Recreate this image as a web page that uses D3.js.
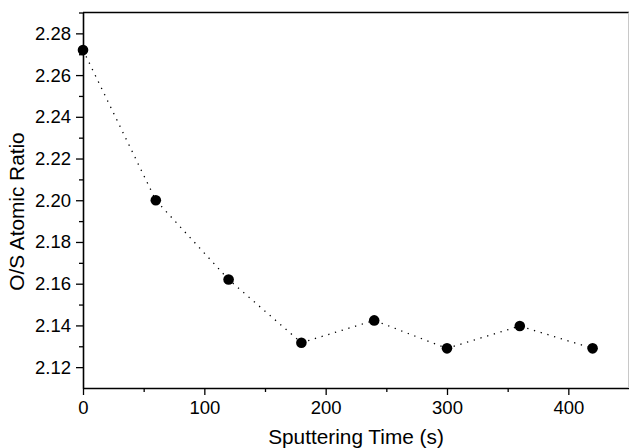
<!DOCTYPE html>
<html>
<head>
<meta charset="utf-8">
<script src="https://cdn.jsdelivr.net/npm/d3@7"></script>
<style>
  body { margin: 0; background: #fff; }
  #chart { width: 629px; height: 448px; }
  text { font-family: "Liberation Sans", Arial, sans-serif; fill: #000; }
</style>
</head>
<body>
<div id="chart"></div>
<script>
// data
const times = [0, 60, 120, 180, 240, 300, 360, 420];
const ratios = [2.272, 2.200, 2.162, 2.1317, 2.1424, 2.129, 2.1397, 2.129];
const xTicks = [0, 100, 200, 300, 400];
const yTicks = [2.12, 2.14, 2.16, 2.18, 2.20, 2.22, 2.24, 2.26, 2.28];

const width = 629;
const height = 448;
const margin = {top: 12.5, left: 83, right: 0, bottom: 60};

const svg = d3.select("#chart")
    .append("svg")
    .attr("width", width)
    .attr("height", height);

const xScale = d3.scaleLinear()
    .domain([0, 450])
    .range([margin.left, width - margin.right]);

const yScale = d3.scaleLinear()
    .domain([2.11, 2.29])
    .range([height - margin.bottom, margin.top]);

// minor ticks
const xMinor = d3.range(50, 450, 100);
const yMinor = d3.range(2.13, 2.29, 0.02).map(function(v) { return +v.toFixed(2); });

svg.append("g")
    .attr("transform", `translate(0,${height - margin.bottom})`)
    .call(d3.axisBottom(xScale).tickValues(xMinor).tickSize(4).tickFormat(""))
    .call(g => g.select(".domain").remove())
    .selectAll("line").attr("stroke-width", 1.3);

svg.append("g")
    .attr("transform", `translate(${margin.left},0)`)
    .call(d3.axisLeft(yScale).tickValues(yMinor).tickSize(4).tickFormat(""))
    .call(g => g.select(".domain").remove())
    .selectAll("line").attr("stroke-width", 1.3);

// major axes
const xAxis = svg.append("g")
    .attr("transform", `translate(0,${height - margin.bottom})`)
    .call(d3.axisBottom(xScale).tickValues(xTicks).tickSize(7).tickSizeOuter(0).tickPadding(6).tickFormat(d3.format("d")));
xAxis.select(".domain").attr("stroke-width", 1.6);
xAxis.selectAll("line").attr("stroke-width", 1.3);
xAxis.selectAll("text").attr("font-size", "18.5px").attr("font-family", "Liberation Sans, Arial, sans-serif");

const yAxis = svg.append("g")
    .attr("transform", `translate(${margin.left},0)`)
    .call(d3.axisLeft(yScale).tickValues(yTicks).tickSize(7).tickSizeOuter(0).tickPadding(5).tickFormat(d3.format(".2f")));
yAxis.select(".domain").attr("stroke-width", 1.6);
yAxis.selectAll("line").attr("stroke-width", 1.3);
yAxis.selectAll("text").attr("font-size", "18.5px").attr("font-family", "Liberation Sans, Arial, sans-serif");

// frame top and right
svg.append("line")
    .attr("x1", margin.left).attr("x2", width)
    .attr("y1", margin.top).attr("y2", margin.top)
    .attr("stroke", "#000").attr("stroke-width", 1.6);
svg.append("line")
    .attr("x1", width - 0.5).attr("x2", width - 0.5)
    .attr("y1", margin.top).attr("y2", height - margin.bottom)
    .attr("stroke", "#c8c8c8").attr("stroke-width", 1);

// dotted line
const points = times.map(function(t, i) { return {t: t, r: ratios[i]}; });
const line = d3.line()
    .x(function(d) { return xScale(d.t); })
    .y(function(d) { return yScale(d.r); });

svg.append("path")
    .datum(points)
    .attr("d", line)
    .attr("fill", "none")
    .attr("stroke", "#000")
    .attr("stroke-width", 1.3)
    .attr("stroke-dasharray", "1.3,5.7");

svg.selectAll("circle")
    .data(points)
    .enter()
    .append("circle")
    .attr("cx", function(d) { return xScale(d.t); })
    .attr("cy", function(d) { return yScale(d.r); })
    .attr("r", 5.3)
    .attr("fill", "#000");

// axis titles
svg.append("text")
    .attr("x", 356)
    .attr("y", 444)
    .attr("text-anchor", "middle")
    .attr("font-size", "20.8px")
    .text("Sputtering Time (s)");

svg.append("text")
    .attr("transform", "rotate(-90)")
    .attr("x", -211.5)
    .attr("y", 24)
    .attr("text-anchor", "middle")
    .attr("font-size", "20.8px")
    .text("O/S Atomic Ratio");
</script>
</body>
</html>
